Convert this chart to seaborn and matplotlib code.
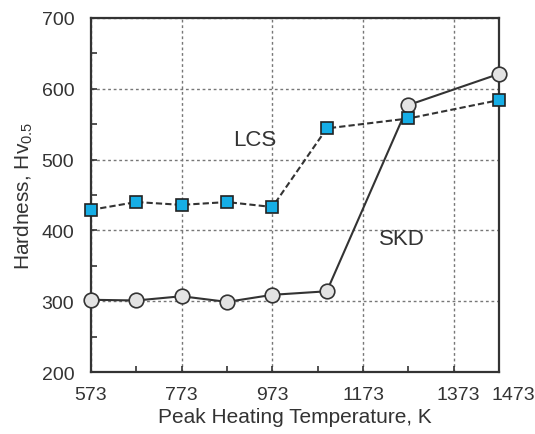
import numpy as np
import pandas as pd
import matplotlib
matplotlib.use('Agg')
import matplotlib.pyplot as plt
import matplotlib.transforms as mtransforms
import seaborn as sns

# Данные
temps = [573, 673, 773, 873, 973, 1093, 1273, 1473]
lcs = [429, 440, 436, 440, 433, 544, 558, 584]
skd = [302, 301, 307, 299, 309, 314, 577, 621]

xticks = [573, 773, 973, 1173, 1373, 1473]
yticks = [200, 300, 400, 500, 600, 700]

data = pd.DataFrame({'temp': temps, 'LCS': lcs, 'SKD': skd})

sns.set_style('white')
plt.rcParams['font.family'] = ['Liberation Sans', 'DejaVu Sans']
plt.rcParams['mathtext.fontset'] = 'custom'
plt.rcParams['mathtext.rm'] = 'Liberation Sans'
plt.rcParams['mathtext.it'] = 'Liberation Sans'

fig = plt.figure(figsize=(5.35, 4.35), dpi=100)
ax = fig.add_axes([0.170, 0.1425, 0.763, 0.814])

sns.lineplot(x='temp', y='SKD', data=data, ax=ax, color='#333333', lw=1.5,
             marker='o', markersize=10.5, markerfacecolor='#e3e3e3',
             markeredgecolor='#333333', markeredgewidth=1.2, zorder=3,
             clip_on=False)
sns.lineplot(x='temp', y='LCS', data=data, ax=ax, color='#333333', lw=1.5,
             linestyle=(0, (3, 1.5)), marker='s', markersize=8.5,
             markerfacecolor='#16aee6', markeredgecolor='#222222',
             markeredgewidth=1.2, zorder=4, clip_on=False)

ax.set_xlim(573, 1473)
ax.set_ylim(200, 700)
ax.set_xticks(xticks)
ax.set_yticks(yticks)
ax.set_xticks(np.arange(673, 1473, 100), minor=True)
ax.set_yticks(np.arange(250, 700, 100), minor=True)
ax.tick_params(which='both', direction='in', bottom=True, left=True,
               labelsize=14, color='#333333', labelcolor='#333333')
ax.tick_params(which='both', length=4, width=1.2)
ax.tick_params(axis='x', which='major', pad=10)
ax.tick_params(axis='y', which='major', pad=12)

# подпись 1473 сдвинута вправо, как на оригинале
lbls = ax.get_xticklabels()
lbls[-1].set_transform(lbls[-1].get_transform() +
                       mtransforms.ScaledTranslation(14 / 100, 0, fig.dpi_scale_trans))
lbls[-2].set_transform(lbls[-2].get_transform() +
                       mtransforms.ScaledTranslation(4 / 100, 0, fig.dpi_scale_trans))

ax.grid(True, which='major', color='#777777', linestyle=(0, (2, 2)), lw=1.0)
for s in ax.spines.values():
    s.set_color('#333333')
    s.set_linewidth(1.6)

ax.set_xlabel('Peak Heating Temperature, K', fontsize=15, color='#333333', labelpad=3)
ax.set_ylabel('Hardness, Hv$_{0.5}$', fontsize=15, color='#333333', labelpad=5)

ax.text(935, 528, 'LCS', fontsize=16, color='#333333', ha='center', va='center')
ax.text(1259, 388, 'SKD', fontsize=16, color='#333333', ha='center', va='center')

plt.savefig('out.png', dpi=100)
